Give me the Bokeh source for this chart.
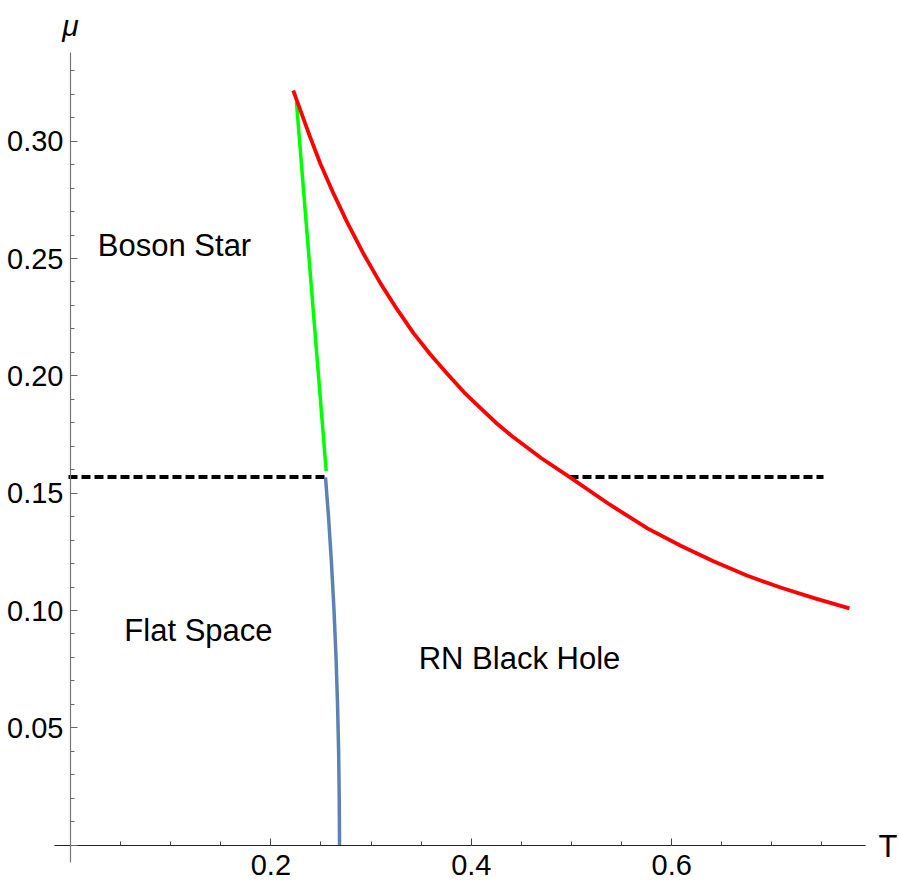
from bokeh.plotting import figure
from bokeh.models import Range1d, FixedTicker, PrintfTickFormatter, Label
from bokeh.embed import file_html
from bokeh.resources import INLINE

# ---- data ----
red_T = [0.2223, 0.2275, 0.2385, 0.2495, 0.2630, 0.2764, 0.2930, 0.3094, 0.3260, 0.3423,
         0.3590, 0.3762, 0.3930, 0.4092, 0.4255, 0.4421, 0.4700, 0.4990, 0.5380, 0.5758,
         0.6090, 0.6417, 0.6750, 0.7086, 0.7430, 0.7774]
red_mu = [0.3216, 0.3155, 0.3025, 0.2903, 0.2772, 0.2652, 0.2516, 0.2394, 0.2283, 0.2182,
          0.2092, 0.2008, 0.1929, 0.1862, 0.1797, 0.1738, 0.1649, 0.1566, 0.1452, 0.1350,
          0.1276, 0.1210, 0.1149, 0.1098, 0.1052, 0.1009]
green_T = [0.2255, 0.2552]
green_mu = [0.3167, 0.1594]
blue_T = [0.2545, 0.2575, 0.2605, 0.2630, 0.2650, 0.2665, 0.2676, 0.2682, 0.2685]
blue_mu = [0.1567, 0.14, 0.12, 0.10, 0.08, 0.06, 0.04, 0.02, 0.0]
dash_mu = [0.1569, 0.1569]
dash_left_T = [-0.002, 0.2575]
dash_right_T = [0.498, 0.7515]

region_names = ["Boson Star", "Flat Space", "RN Black Hole"]
region_T = [0.1038, 0.1277, 0.4481]
region_mu = [0.2555, 0.0915, 0.0796]

x_major = [0, 0.2, 0.4, 0.6]
x_minor = [0.05, 0.1, 0.15, 0.25, 0.3, 0.35, 0.45, 0.5, 0.55, 0.65, 0.7, 0.75]
y_major = [0, 0.05, 0.10, 0.15, 0.20, 0.25, 0.30]
y_minor = [0.01, 0.02, 0.03, 0.04, 0.06, 0.07, 0.08, 0.09, 0.11, 0.12, 0.13, 0.14,
           0.16, 0.17, 0.18, 0.19, 0.21, 0.22, 0.23, 0.24, 0.26, 0.27, 0.28, 0.29,
           0.31, 0.32, 0.33]
x_bounds = (-0.016, 0.7934)
y_bounds = (-0.0074, 0.3378)

FONT = "Liberation Sans"

p = figure(width=899, height=894, output_backend="svg", toolbar_location=None,
           x_range=Range1d(-0.06986, 0.82735), y_range=Range1d(-0.02101, 0.35995),
           min_border_left=0, min_border_right=0, min_border_top=0, min_border_bottom=0)
p.outline_line_color = None
p.xgrid.visible = False
p.ygrid.visible = False
p.background_fill_color = "white"
p.border_fill_color = "white"

# axes through the origin
p.xaxis.fixed_location = 0
p.yaxis.fixed_location = 0
p.xaxis.bounds = x_bounds
p.yaxis.bounds = y_bounds
p.xaxis.ticker = FixedTicker(ticks=x_major, minor_ticks=x_minor)
p.yaxis.ticker = FixedTicker(ticks=y_major, minor_ticks=y_minor)
p.xaxis.formatter = PrintfTickFormatter(format="%.1f")
p.yaxis.formatter = PrintfTickFormatter(format="%.2f")
p.xaxis.major_label_overrides = {0: ""}
p.yaxis.major_label_overrides = {0: ""}
for ax in (p.xaxis, p.yaxis):
    ax.major_tick_in = 7
    ax.major_tick_out = 0
    ax.minor_tick_in = 4
    ax.minor_tick_out = 0
    ax.major_label_text_font = FONT
    ax.major_label_text_font_size = "29px"
    ax.major_label_text_color = "black"
    ax.axis_line_width = 1.2
p.xaxis.axis_line_color = "#222222"
p.xaxis.major_tick_line_color = "#444444"
p.xaxis.minor_tick_line_color = "#444444"
p.yaxis.axis_line_color = "#777777"
p.yaxis.major_tick_line_color = "#666666"
p.yaxis.minor_tick_line_color = "#666666"
p.xaxis.major_label_standoff = 10
p.yaxis.major_label_standoff = 7

# curves
p.line(dash_left_T, dash_mu, line_color="black", line_width=4, line_dash="9 4")
p.line(dash_right_T, dash_mu, line_color="black", line_width=4, line_dash="9 4")
p.line(blue_T, blue_mu, line_color="#5E81B5", line_width=3.5, line_join="round")
p.line(green_T, green_mu, line_color="#00FF00", line_width=3.5)
p.line(red_T, red_mu, line_color="#FF0000", line_width=3.8, line_join="round")

# region labels
for name, t, m in zip(region_names, region_T, region_mu):
    p.add_layout(Label(x=t, y=m, text=name, text_align="center", text_baseline="middle",
                       text_font=FONT, text_font_size="31px", text_color="black"))

# axis labels
p.add_layout(Label(x=0, y=y_bounds[1], text="μ", text_align="center", text_baseline="alphabetic",
                   y_offset=27, text_font=FONT, text_font_style="italic",
                   text_font_size="30px", text_color="black"))
p.add_layout(Label(x=x_bounds[1], y=0, text="T", text_align="left", text_baseline="alphabetic",
                   x_offset=13, y_offset=-1, text_font=FONT,
                   text_font_size="31px", text_color="black"))

open("out.html", "w").write(file_html(p, INLINE))
